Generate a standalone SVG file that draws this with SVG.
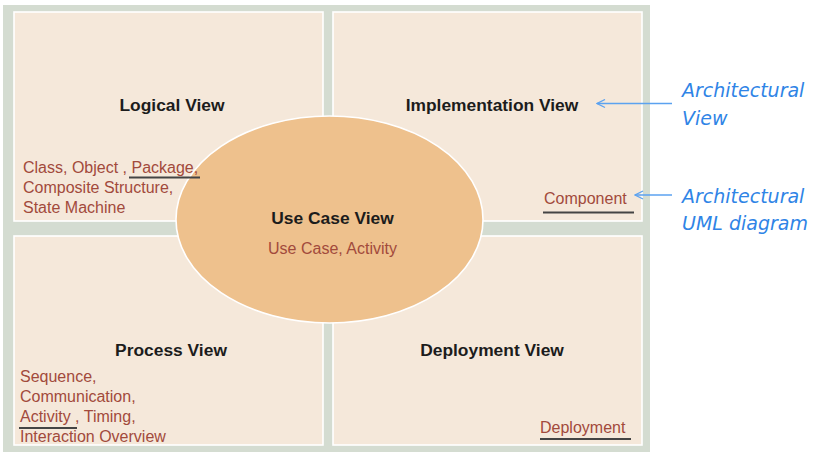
<svg xmlns="http://www.w3.org/2000/svg" width="821" height="461" viewBox="0 0 821 461">
<defs>
<style>
.panel{fill:#F5E8DA;stroke:#FFFFFF;stroke-width:1.6}
.title{font-family:"Liberation Sans",Arial,sans-serif;font-weight:bold;font-size:17.4px;fill:#1C1C1C;text-anchor:middle}
.diag{font-family:"Liberation Sans",Arial,sans-serif;font-size:16px;fill:#A24A3C}
.ul{stroke:#444444;stroke-width:2}
.note{font-family:"DejaVu Sans",Verdana,sans-serif;font-style:italic;font-size:19px;fill:#2F84E6}
.conn{stroke:#5BA2F0;stroke-width:1.3;fill:none}
</style>
<marker id="ah" viewBox="0 0 10 10" refX="9" refY="5" markerWidth="10" markerHeight="10" markerUnits="userSpaceOnUse" orient="auto">
<path d="M1,1 L9,5 L1,9" fill="none" stroke="#5BA2F0" stroke-width="1.3"/>
</marker>
</defs>
<rect x="0" y="0" width="821" height="461" fill="#FFFFFF"/>
<rect id="frame" x="3" y="5" width="647" height="447" fill="#D4DCD1"/>
<g id="logical">
<rect class="panel" x="14" y="12" width="309" height="209"/>
<text class="title" x="172" y="111">Logical View</text>
</g>
<g id="implementation">
<rect class="panel" x="333" y="12" width="309" height="209"/>
<text class="title" x="492" y="111">Implementation View</text>
<text class="diag" x="544" y="204">Component</text>
<line class="ul" x1="543" y1="212.5" x2="634" y2="212.5"/>
</g>
<g id="process">
<rect class="panel" x="14" y="236" width="309" height="209"/>
<text class="title" x="171" y="356">Process View</text>
<text class="diag" x="20" y="382">Sequence,</text>
<text class="diag" x="20" y="402">Communication,</text>
<text class="diag" x="20" y="422">Activity , Timing,</text>
<text class="diag" x="20" y="442">Interaction Overview</text>
<line class="ul" x1="19" y1="428" x2="77" y2="428"/>
</g>
<g id="deployment">
<rect class="panel" x="333" y="236" width="309" height="209"/>
<text class="title" x="492" y="356">Deployment View</text>
<text class="diag" x="540" y="433">Deployment</text>
<line class="ul" x1="540" y1="439" x2="631" y2="439"/>
</g>
<g id="usecase">
<ellipse cx="329.5" cy="219.5" rx="153.5" ry="103.5" fill="#EEC18D" stroke="#FFFFFF" stroke-width="1.6"/>
<text class="title" x="332.5" y="224">Use Case View</text>
<text class="diag" x="332.5" y="254" text-anchor="middle">Use Case, Activity</text>
</g>
<g id="logical-diagrams">
<text class="diag" x="23" y="173">Class, Object , Package,</text>
<text class="diag" x="23" y="193">Composite Structure,</text>
<text class="diag" x="23" y="213">State Machine</text>
<line class="ul" x1="129" y1="177.5" x2="200" y2="177.5"/>
</g>
<g id="note-view">
<text class="note" x="682" y="97">Architectural</text>
<text class="note" x="682" y="125">View</text>
</g>
<g id="note-diagram">
<text class="note" x="682" y="203">Architectural</text>
<text class="note" x="682" y="230">UML diagram</text>
</g>
<g id="connectors">
<line class="conn" x1="672" y1="103.5" x2="597" y2="103.5" marker-end="url(#ah)"/>
<line class="conn" x1="672" y1="195" x2="635" y2="195" marker-end="url(#ah)"/>
</g>
</svg>
